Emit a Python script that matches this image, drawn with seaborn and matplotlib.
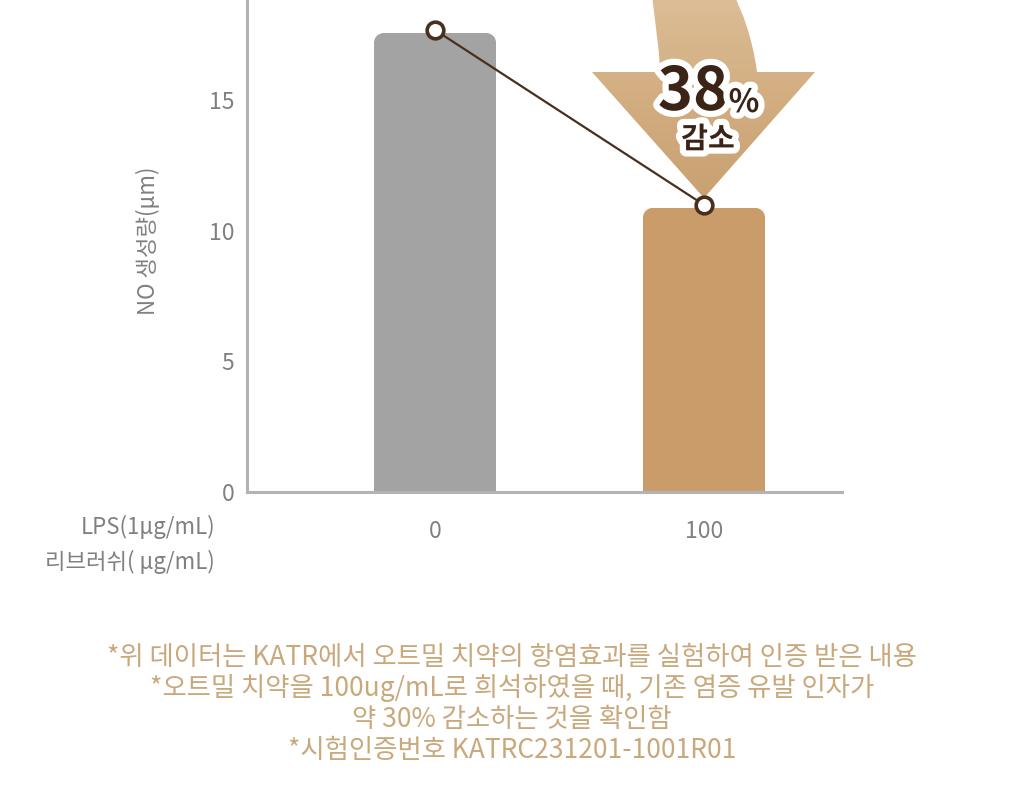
import numpy as np
import pandas as pd
import matplotlib
matplotlib.use("Agg")
import matplotlib.pyplot as plt
import seaborn as sns
from matplotlib.patches import FancyBboxPatch, PathPatch
from matplotlib.path import Path
from matplotlib.colors import LinearSegmentedColormap
import matplotlib.patheffects as pe

# ---- data ----
categories = ["0", "100"]
values = [17.6, 10.9]
bar_colors = ["#a3a3a3", "#c99c6a"]
yticks = [0, 5, 10, 15]
ylabel = "NO 생성량(μm)"
row_labels = ["LPS(1μg/mL)", "리브러쉬( μg/mL)"]
reduction_text = "38"
reduction_sub = "감소"
footnotes = [
    "*위 데이터는 KATR에서 오트밀 치약의 항염효과를 실험하여 인증 받은 내용",
    "*오트밀 치약을 100ug/mL로 희석하였을 때, 기존 염증 유발 인자가",
    "약 30% 감소하는 것을 확인함",
    "*시험인증번호 KATRC231201-1001R01",
]

sns.set_theme(style="white")
plt.rcParams["font.family"] = ["Noto Sans CJK KR", "DejaVu Sans"]

W, H = 1024, 805
fig = plt.figure(figsize=(W / 100, H / 100), dpi=100)

# overlay axes in pixel coordinates for decorations (arrow)
deco = fig.add_axes([0, 0, 1, 1], zorder=0)
deco.set_xlim(0, W)
deco.set_ylim(H, 0)
deco.axis("off")

# main axes
L, R, B = 247, 842, 492
ax = fig.add_axes([L / W, 1 - B / H, (R - L) / W, B / H], zorder=1)
ax.set_facecolor("none")

df = pd.DataFrame({"cat": categories, "val": values})
sns.barplot(data=df, x="cat", y="val", hue="cat", palette=bar_colors,
            width=0.457, ax=ax, legend=False, saturation=1)
ax.set_xlim(-0.699, 1.513)
ax.set_ylim(0, 18.85)

# rounded top corners via clip paths
px_per_x = (R - L) / (1.513 + 0.699)
px_per_y = B / 18.85
for p in ax.patches:
    x0, w, h = p.get_x(), p.get_width(), p.get_height()
    rs = 13 / px_per_x
    clip = FancyBboxPatch((x0, -2), w, h + 2,
                          boxstyle=f"round,pad=0,rounding_size={rs}",
                          mutation_aspect=px_per_x / px_per_y,
                          transform=ax.transData, facecolor="none", edgecolor="none")
    p.set_clip_path(clip)
    p.set_edgecolor("none")

# connecting line with markers
ax.plot(range(len(values)), [v + 0.1 for v in values], color="#4a2f1c", lw=1.6,
        marker="o", markersize=12, markerfacecolor="white",
        markeredgecolor="#4a2f1c", markeredgewidth=2.6, zorder=5, clip_on=False)

ax.set_yticks(yticks)
ax.set_yticklabels([str(t) for t in yticks])
ax.set_xlabel("")
ax.set_ylabel("")
for s in ["top", "right"]:
    ax.spines[s].set_visible(False)
for s in ["left", "bottom"]:
    ax.spines[s].set_color("#b3b3b3")
    ax.spines[s].set_linewidth(2.2)
ax.tick_params(axis="y", length=0, pad=9, labelsize=16.5, labelcolor="#808080")
ax.tick_params(axis="x", length=0, pad=20, labelsize=16.5, labelcolor="#808080")

fig.text(148 / W, 1 - 241 / H, ylabel, rotation=90, ha="center", va="center",
         fontsize=16, color="#808080")
fig.text(215 / W, 1 - 527 / H, row_labels[0], ha="right", va="center",
         fontsize=16, color="#808080")
fig.text(215 / W, 1 - 562 / H, row_labels[1], ha="right", va="center",
         fontsize=16, color="#808080")

# big curved arrow (decoration)
verts = [
    (652, -5), (656, 30), (660, 55), (660, 72),
    (592, 72), (704, 198), (815, 72), (757, 72),
    (752, 35), (742, 12), (734, -5), (652, -5),
]
codes = [Path.MOVETO, Path.CURVE4, Path.CURVE4, Path.CURVE4,
         Path.LINETO, Path.LINETO, Path.LINETO, Path.LINETO,
         Path.CURVE4, Path.CURVE4, Path.CURVE4, Path.CLOSEPOLY]
arrow = PathPatch(Path(verts, codes), facecolor="none", edgecolor="none")
deco.add_patch(arrow)
grad = np.linspace(0, 1, 256).reshape(-1, 1)
cmap = LinearSegmentedColormap.from_list("ar", ["#dcbd96", "#d2ad80", "#c9a171"])
im = deco.imshow(grad, cmap=cmap, extent=(580, 830, 200, 0), aspect="auto", zorder=1)
im.set_clip_path(arrow)

stroke = [pe.withStroke(linewidth=9, foreground="white")]
fig.text(693 / W, 1 - 93 / H, reduction_text, ha="center", va="center",
         fontsize=43, fontweight="bold", color="#3b2416", path_effects=stroke)
fig.text(744 / W, 1 - 103 / H, "%", ha="center", va="center",
         fontsize=23, fontweight="bold", color="#3b2416", path_effects=stroke)
fig.text(708 / W, 1 - 139 / H, reduction_sub, ha="center", va="center",
         fontsize=21, fontweight="bold", color="#3b2416", path_effects=stroke)

for i, line in enumerate(footnotes):
    fig.text(0.5, 1 - (657 + 31.3 * i) / H, line, ha="center", va="center",
             fontsize=19, color="#c9a87c")

fig.savefig("out.png", dpi=100)
